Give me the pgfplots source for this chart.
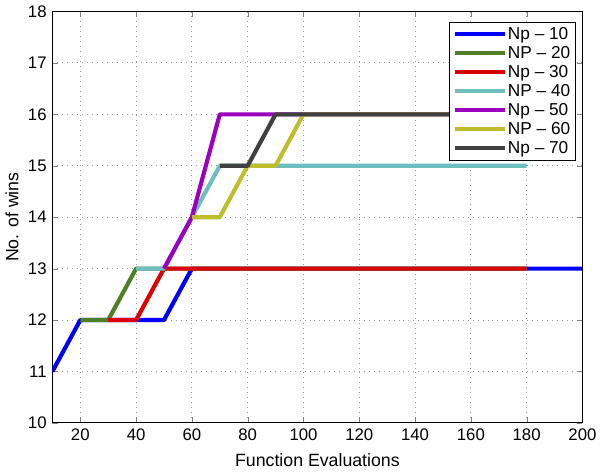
\documentclass[border=0pt]{standalone}
\usepackage{pgfplots}
\pgfplotsset{compat=1.18}
\usepackage{fontspec}
\setmainfont{Liberation Sans}
\definecolor{cNa}{RGB}{0,0,250}
\definecolor{cNb}{RGB}{78,128,40}
\definecolor{cNc}{RGB}{220,0,0}
\definecolor{cNd}{RGB}{110,190,192}
\definecolor{cNe}{RGB}{155,0,190}
\definecolor{cNf}{RGB}{190,190,45}
\definecolor{cNg}{RGB}{64,64,64}
\begin{document}
\fontsize{17}{20}\selectfont
\begin{tikzpicture}
\begin{axis}[scale only axis,width=536bp,height=416bp,
  xmin=10,xmax=200,ymin=10,ymax=18,
  xtick={20,40,...,200},ytick={10,11,...,18},
  /pgf/number format/assume math mode=true,
  tick label style={font=\fontsize{17}{20}\selectfont},
  label style={font=\fontsize{18}{21}\selectfont},
  xlabel={Function Evaluations},ylabel={No. of wins},
  xlabel style={yshift=-2bp},ylabel style={yshift=-2bp},
  tick align=inside,tick pos=both,major tick length=6bp,
  grid=major,grid style={dash pattern=on 1bp off 4bp,gray!80,line width=0.9bp},
  axis line style={line width=0.9bp},
  legend style={at={(0.987,0.975)},anchor=north east,font=\fontsize{17.5}{20}\selectfont,
    draw=black,line width=0.7bp,row sep=2.5bp,inner sep=4bp,
    nodes={inner sep=1bp}},
  legend cell align=left,
  legend image code/.code={\draw[#1] (0bp,0bp) -- (50bp,0bp);},
  every axis plot/.append style={line width=4.2bp,line join=round}]
\addplot[cNa] coordinates {(10,11) (20,12) (50,12) (60,13) (200,13)}; \addlegendentry{Np -- 10}
\addplot[cNb] coordinates {(20,12) (30,12) (40,13) (180,13)}; \addlegendentry{NP -- 20}
\addplot[cNc] coordinates {(30,12) (40,12) (50,13) (180,13)}; \addlegendentry{Np -- 30}
\addplot[cNd] coordinates {(40,13) (50,13) (60,14) (70,15) (180,15)}; \addlegendentry{NP -- 40}
\addplot[cNe] coordinates {(50,13) (60,14) (70,16) (180,16)}; \addlegendentry{Np -- 50}
\addplot[cNf] coordinates {(60,14) (70,14) (80,15) (90,15) (100,16) (180,16)}; \addlegendentry{NP -- 60}
\addplot[cNg] coordinates {(70,15) (80,15) (90,16) (180,16)}; \addlegendentry{Np -- 70}
\end{axis}
\end{tikzpicture}
\end{document}
